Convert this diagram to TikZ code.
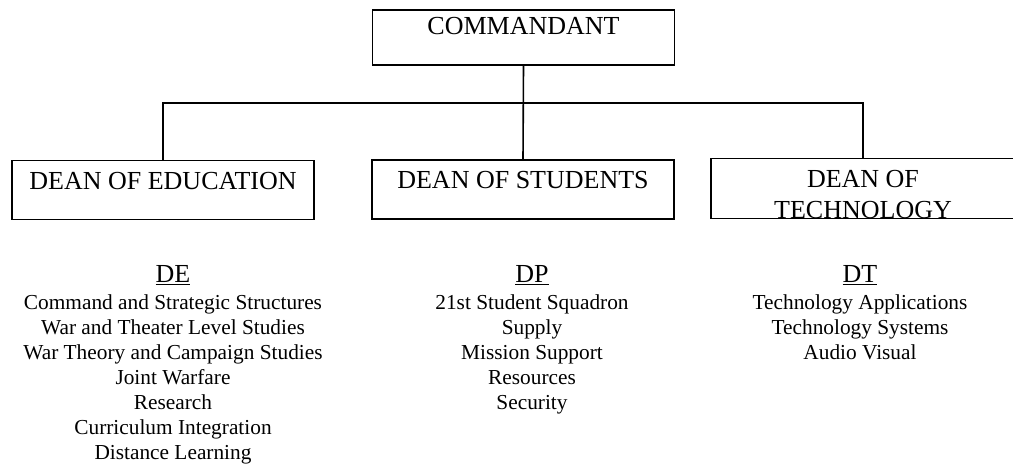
\documentclass[tikz,border=0pt]{standalone}
\usepackage{fontspec}
\setmainfont{Liberation Serif}
\usetikzlibrary{positioning}

\tikzset{
  orgbox/.style={draw, rectangle, minimum width=226.5pt, inner ysep=5.25pt, text depth=17.5pt,
    align=center, font=\fontsize{19.5}{23.4}\selectfont},
  unithead/.style={anchor=base, inner sep=0pt, font=\fontsize{19.5}{23.4}\selectfont},
  unitlist/.style={inner sep=0pt, align=center, font=\fontsize{16}{18.75}\selectfont},
}

\begin{document}
\begin{tikzpicture}[x=0.75pt, y=-0.75pt, line width=1.2pt]
  % Organigrama: comandante, decanos y sus divisiones
  \useasboundingbox (0,0) rectangle (1013,465);
  \node[orgbox, text height=13pt] (cmd) at (523.5,37.5) {COMMANDANT};
  \node[orgbox, text height=16pt] (de) at (163,190) {DEAN OF EDUCATION};
  \node[orgbox, text height=16pt] (ds) at (523,189.5) {DEAN OF STUDENTS};
  \node[orgbox, text height=16pt, draw=none] (dt) at (863,188.5)
    {\begin{tabular}[t]{@{}c@{}}DEAN OF\\TECHNOLOGY\end{tabular}};
  \fill[white] ([yshift=-0.5pt]dt.south west) rectangle ([yshift=-6pt]dt.south east);
  \draw (dt.north east) -- (dt.north west) -- (dt.south west) -- (dt.south east);
  \coordinate (bar) at (523,103);
  \draw (cmd.south) -- (ds.north);
  \draw (de.north) |- (bar) -| (dt.north);

  \node[unithead] (dehead) at (173,282) {\underline{DE}};
  \node[unitlist, below=6.5pt of dehead] (delist) {Command and Strategic Structures\\
    War and Theater Level Studies\\War Theory and Campaign Studies\\Joint Warfare\\
    Research\\Curriculum Integration\\Distance Learning};
  \node[unithead] (dphead) at (532,282) {\underline{DP}};
  \node[unitlist, below=6.5pt of dphead] (dplist) {21st Student Squadron\\Supply\\
    Mission Support\\Resources\\Security};
  \node[unithead] (dthead) at (860,282) {\underline{DT}};
  \node[unitlist, below=6.5pt of dthead] (dtlist) {Technology Applications\\
    Technology Systems\\Audio Visual};
\end{tikzpicture}
\end{document}
